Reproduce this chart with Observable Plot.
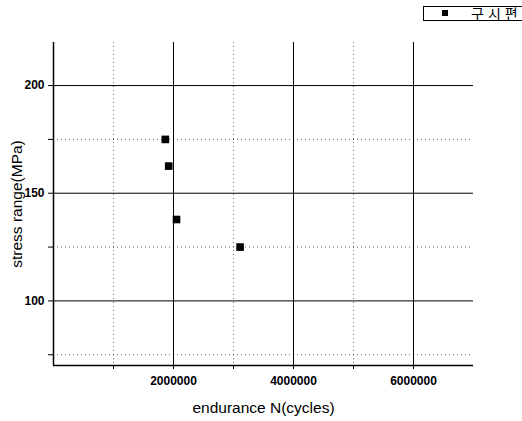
<!DOCTYPE html>
<html><head><meta charset="utf-8">
<script src="https://cdn.jsdelivr.net/npm/d3@7"></script>
<script src="https://cdn.jsdelivr.net/npm/@observablehq/plot@0.6"></script>
<style>
body{margin:0;background:#fff;font-family:"Liberation Sans",Arial,sans-serif;}
#wrap{position:relative;width:522px;height:421px;}
#legend{position:absolute;left:423px;top:6px;width:110px;height:13px;border:1px solid #000;background:#fff;font-size:14px;line-height:13px;}
#legend .sq{position:absolute;left:18px;top:3px;width:6px;height:6px;background:#000;}
#legend .t{position:absolute;left:47px;top:0;letter-spacing:4px;font-family:"Noto Sans CJK KR",sans-serif;}
</style></head>
<body><div id="wrap"><div id="legend"><span class="sq"></span><span class="t">구시편</span></div></div>
<script>
const cycles = [1864000, 1920000, 2050000, 3110000];
const stress = [175, 162.6, 137.8, 125];
const seriesName = "구시편";
const majorX = [2000000, 4000000, 6000000];
const minorX = [1000000, 3000000, 5000000];
const majorY = [100, 150, 200];
const minorY = [75, 125, 175];

const data = cycles.map((c, i) => ({c, s: stress[i]}));
const allX = [...minorX, ...majorX].sort((a,b)=>a-b);
const allY = [...minorY, ...majorY].sort((a,b)=>a-b);

const chart = Plot.plot({
  width: 522, height: 421,
  marginLeft: 53, marginRight: 49, marginTop: 42, marginBottom: 56,
  style: {fontFamily: "Liberation Sans, Arial, sans-serif", fontSize: "12px", color: "#000", background: "transparent"},
  x: {domain: [0, 7000000]},
  y: {domain: [70, 220]},
  marks: [
    Plot.ruleY(minorY, {stroke: "#000", strokeOpacity: 0.6, strokeDasharray: "1,3"}),
    Plot.ruleX(minorX, {stroke: "#000", strokeOpacity: 0.6, strokeDasharray: "1,3"}),
    Plot.ruleY(majorY, {stroke: "#000", strokeWidth: 1}),
    Plot.ruleX(majorX, {stroke: "#000", strokeWidth: 1}),
    Plot.ruleX([0], {stroke: "#000", strokeWidth: 1.5}),
    Plot.ruleY([70], {stroke: "#000", strokeWidth: 1.5}),
    Plot.axisX({ticks: allX, tickSize: 4, tickPadding: 7, tickFormat: d => majorX.includes(d) ? String(d) : "", label: "endurance N(cycles)", labelAnchor: "center", labelArrow: "none", labelOffset: 47, fontSize: 12, fontWeight: "bold"}),
    Plot.axisY({ticks: allY, tickSize: 5, tickFormat: d => majorY.includes(d) ? String(d) : "", label: "stress range(MPa)", labelAnchor: "center", labelArrow: "none", labelOffset: 43, fontSize: 12, fontWeight: "bold"}),
    Plot.dot(data, {x: "c", y: "s", symbol: "square", r: 4.3, fill: "#000", stroke: "none"})
  ]
});
chart.querySelectorAll('[aria-label="x-axis label"] text, [aria-label="y-axis label"] text').forEach(t => {t.style.fontSize = "15.5px"; t.style.fontWeight = "normal";});
document.getElementById("wrap").appendChild(chart);
</script></body></html>
